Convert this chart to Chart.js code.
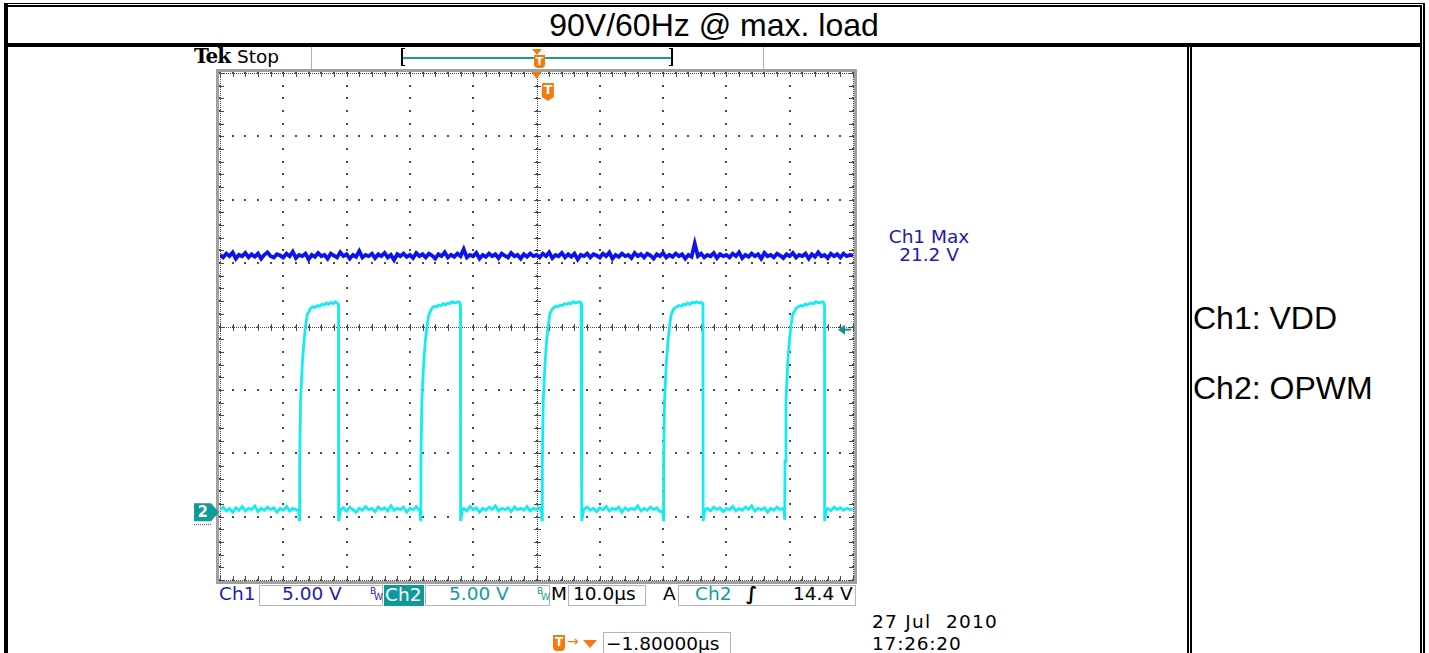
<!DOCTYPE html>
<html>
<head>
<meta charset="utf-8">
<title>90V/60Hz @ max. load</title>
<script src="https://cdn.jsdelivr.net/npm/chart.js@4.4.1/dist/chart.umd.min.js"></script>
<style>
  html, body { margin: 0; padding: 0; background: #fff; }
  body { position: relative; width: 1429px; height: 653px; overflow: hidden; }
  .rule { position: absolute; background: #000; }
  .t { position: absolute; white-space: pre; line-height: 1; font-family: "DejaVu Sans", sans-serif; font-size: 18.5px; color: #000; }
  .cell { position: absolute; white-space: nowrap; line-height: 1; font-family: "Liberation Sans", Arial, sans-serif; font-size: 32px; color: #000; }
  .box { position: absolute; box-sizing: border-box; border: 1px solid #b4b4b4; background: #fff; }
  .sep { position: absolute; width: 1px; background: #b0b0b0; }
  .ch1 { color: #1d1da8; }
  .ch2 { color: #0f9c9c; }
  .bw { position: absolute; line-height: 1; font-family: "DejaVu Sans", sans-serif; font-size: 9px; }
  .orange { background: #f47a10; }
  #plot { position: absolute; left: 180px; top: 67px; }
</style>
</head>
<body>

<!-- table rules -->
<div class="rule" style="left:4px;top:3px;width:1421px;height:1px"></div>
<div class="rule" style="left:4px;top:5px;width:1418px;height:2px"></div>
<div class="rule" style="left:4px;top:3px;width:4px;height:650px"></div>
<div class="rule" style="left:4px;top:43px;width:1418px;height:4px"></div>
<div class="rule" style="left:1420px;top:5px;width:2px;height:648px"></div>
<div class="rule" style="left:1423px;top:3px;width:2px;height:650px"></div>
<div class="rule" style="left:1187px;top:47px;width:2px;height:606px"></div>
<div class="rule" style="left:1190px;top:47px;width:2px;height:606px"></div>

<div class="cell" style="left:8px;width:1412px;top:9px;text-align:center">90V/60Hz @ max. load</div>
<div class="cell" style="left:1193px;top:302px">Ch1: VDD</div>
<div class="cell" style="left:1193px;top:372px">Ch2: OPWM</div>

<!-- scope header -->
<div class="t" style="left:194px;top:46px;font-family:'DejaVu Serif',serif;font-weight:bold;font-size:20px;letter-spacing:-1px">Tek</div>
<div class="t" style="left:237px;top:48px">Stop</div>
<div class="sep" style="left:311px;top:47px;height:22px"></div>
<div class="sep" style="left:763px;top:47px;height:22px"></div>
<div class="rule" style="left:401px;top:48px;width:2px;height:18px"></div>
<div class="rule" style="left:401px;top:48px;width:4px;height:1px"></div>
<div class="rule" style="left:401px;top:65px;width:4px;height:1px"></div>
<div class="rule" style="left:671px;top:48px;width:2px;height:18px"></div>
<div class="rule" style="left:669px;top:48px;width:4px;height:1px"></div>
<div class="rule" style="left:669px;top:65px;width:4px;height:1px"></div>
<div class="rule" style="left:403px;top:57px;width:268px;height:2px;background:#1a9a9a"></div>
<div style="position:absolute;left:532px;top:49px;width:0;height:0;border-left:5px solid transparent;border-right:5px solid transparent;border-top:6px solid #f47a10"></div>
<div class="orange" style="position:absolute;left:534px;top:55px;width:11px;height:13px;border-radius:0 0 4px 4px;color:#fff;font:bold 11px 'DejaVu Sans';text-align:center;line-height:13px">T</div>

<!-- channel readout -->
<div class="t" style="left:880px;top:228px;width:98px;text-align:center;line-height:18px" id="maxLabel"></div>

<!-- status bar -->
<div class="t ch1" style="left:219px;top:585px">Ch1</div>
<div class="box" style="left:259px;top:585px;width:124px;height:21px"></div>
<div class="t ch1" style="left:282px;top:585px">5.00 V</div>
<div class="bw ch1" style="left:370px;top:587px">B</div>
<div class="bw ch1" style="left:374px;top:593px">W</div>
<div style="position:absolute;left:384px;top:585px;width:40px;height:21px;background:#0f9a9a"></div>
<div class="t" style="left:385px;top:586px;color:#fff">Ch2</div>
<div class="box" style="left:425px;top:585px;width:125px;height:21px"></div>
<div class="t ch2" style="left:449px;top:585px">5.00 V</div>
<div class="bw ch2" style="left:537px;top:587px">B</div>
<div class="bw ch2" style="left:541px;top:593px">W</div>
<div class="t" style="left:551px;top:585px">M</div>
<div class="box" style="left:568px;top:585px;width:78px;height:21px"></div>
<div class="t" style="left:573px;top:585px">10.0µs</div>
<div class="t" style="left:663px;top:585px">A</div>
<div class="box" style="left:678px;top:585px;width:178px;height:21px"></div>
<div class="t ch2" style="left:695px;top:585px">Ch2</div>
<div class="t" style="left:746px;top:585px;font-weight:bold">∫</div>
<div class="t" style="left:793px;top:585px">14.4 V</div>

<div class="orange" style="position:absolute;left:553px;top:635px;width:12px;height:16px;border-radius:0 0 4px 4px;color:#fff;font:bold 12px 'DejaVu Sans';text-align:center;line-height:15px">T</div>
<div class="t" style="left:567px;top:634px;color:#f47a10;font-size:14px">→</div>
<div style="position:absolute;left:583px;top:640px;width:0;height:0;border-left:7px solid transparent;border-right:7px solid transparent;border-top:8px solid #f47a10"></div>
<div class="box" style="left:603px;top:632px;width:128px;height:22px"></div>
<div class="t" style="left:606px;top:635px">−1.80000µs</div>
<div class="t" style="left:872px;top:613px;letter-spacing:1.3px">27 Jul  2010</div>
<div class="t" style="left:872px;top:635px;letter-spacing:0.8px">17:26:20</div>

<canvas id="plot" width="690" height="520"></canvas>

<script>
// Ch1 (VDD) record, one sample every 0.5 µs starting at -50 µs
const ch1Start = -50;
const ch1Step = 0.5;
const ch1Volts = [
  20.3, 20.1, 20.4, 20.2, 20.5, 20.0, 20.3, 20.2, 20.45, 20.1, 20.35, 20.15, 20.4, 20.0, 20.3, 20.5, 20.2, 20.1, 20.35, 20.25,
  20.1, 20.4, 20.2, 20.55, 20.05, 20.3, 20.2, 20.4, 19.95, 20.3, 20.15, 20.45, 20.2, 20.3, 20.0, 20.4, 20.25, 20.1, 20.5, 20.2,
  20.35, 20.0, 20.3, 20.15, 20.6, 20.1, 20.3, 20.2, 20.4, 20.05, 20.35, 20.2, 20.45, 20.1, 20.3, 19.9, 20.35, 20.2, 20.4, 20.15,
  20.3, 20.05, 20.45, 20.2, 20.35, 20.1, 20.4, 20.25, 20.0, 20.35, 20.2, 20.5, 20.1, 20.3, 20.15, 20.4, 20.2, 20.75, 20.1, 20.3,
  20.2, 20.45, 20.0, 20.3, 20.15, 20.4, 20.2, 20.35, 20.05, 20.4, 20.25, 20.1, 20.45, 20.2, 20.3, 20.0, 20.35, 20.15, 20.4, 20.2,
  20.3, 20.1, 20.4, 20.2, 20.5, 20.05, 20.3, 20.2, 20.45, 20.1, 20.35, 20.15, 20.4, 19.95, 20.3, 20.2, 20.4, 20.1, 20.35, 20.25,
  20.1, 20.4, 20.2, 20.5, 20.0, 20.3, 20.15, 20.4, 20.2, 20.3, 20.05, 20.45, 20.2, 20.35, 20.1, 20.4, 20.25, 20.0, 20.35, 20.2,
  20.45, 20.1, 20.3, 20.15, 20.4, 20.2, 20.35, 20.0, 20.3, 20.15, 21.2, 20.2, 20.4, 20.1, 20.3, 20.2, 20.45, 20.05, 20.35, 20.2,
  20.3, 20.1, 20.4, 20.2, 20.5, 20.05, 20.3, 20.15, 20.4, 20.2, 20.35, 20.0, 20.45, 20.2, 20.3, 20.1, 20.4, 20.25, 20.05, 20.35,
  20.2, 20.45, 20.1, 20.3, 20.2, 20.4, 20.0, 20.35, 20.15, 20.5, 20.2, 20.3, 20.05, 20.4, 20.2, 20.35, 20.1, 20.4, 20.2, 20.3,
  20.25
];

// Ch2 (OPWM) gate drive, time in µs / volts
const ch2Time = [
  -50, -49.5, -49, -48.5, -48, -47.5, -47, -46.5, -46, -45.5, -45, -44.5, -44, -43.5, -43, -42.5, -42, -41.5, -41, -40.5, -40, -39.5, -39, -38.5, -38, -37.57,
  -37.47, -37.42, -37.27, -37.0, -36.73, -36.48, -36.21, -35.87, -35.67, -35.3, -34.95, -34.6, -34.25, -33.9, -33.55, -33.2, -32.85, -32.5, -32.15, -31.8, -31.5, -31.38, -31.28, -31.26, -30.98,
  -30.5, -30, -29.5, -29, -28.5, -28, -27.5, -27, -26.5, -26, -25.5, -25, -24.5, -24, -23.5, -23, -22.5, -22, -21.5, -21, -20.5, -20, -19.5, -19, -18.5, -18.41,
  -18.31, -18.26, -18.11, -17.84, -17.57, -17.32, -17.05, -16.71, -16.51, -16.15, -15.8, -15.45, -15.1, -14.75, -14.4, -14.05, -13.7, -13.35, -13.0, -12.65, -12.3, -12.11, -12.01, -11.99, -11.71,
  -11.5, -11, -10.5, -10, -9.5, -9, -8.5, -8, -7.5, -7, -6.5, -6, -5.5, -5, -4.5, -4, -3.5, -3, -2.5, -2, -1.5, -1, -0.5, 0, 0.5, 0.77,
  0.87, 0.92, 1.07, 1.34, 1.61, 1.86, 2.13, 2.47, 2.67, 3.0, 3.35, 3.7, 4.05, 4.4, 4.75, 5.1, 5.45, 5.8, 6.15, 6.5, 6.85, 7.04, 7.14, 7.16, 7.44,
  8, 8.5, 9, 9.5, 10, 10.5, 11, 11.5, 12, 12.5, 13, 13.5, 14, 14.5, 15, 15.5, 16, 16.5, 17, 17.5, 18, 18.5, 19, 19.5, 19.93,
  20.03, 20.08, 20.23, 20.5, 20.77, 21.02, 21.29, 21.63, 21.83, 22.15, 22.5, 22.85, 23.2, 23.55, 23.9, 24.25, 24.6, 24.95, 25.3, 25.65, 26.0, 26.2, 26.3, 26.32, 26.6,
  27, 27.5, 28, 28.5, 29, 29.5, 30, 30.5, 31, 31.5, 32, 32.5, 33, 33.5, 34, 34.5, 35, 35.5, 36, 36.5, 37, 37.5, 38, 38.5, 39, 39.11,
  39.21, 39.26, 39.41, 39.68, 39.95, 40.2, 40.47, 40.81, 41.01, 41.35, 41.7, 42.05, 42.4, 42.75, 43.1, 43.45, 43.8, 44.15, 44.5, 44.85, 45.2, 45.4, 45.5, 45.52, 45.8,
  46, 46.5, 47, 47.5, 48, 48.5, 49, 49.5, 50
];
const ch2Volts = [
  0.2, 0.4, 0.1, 0.3, 0.0, 0.35, 0.15, 0.45, 0.1, 0.3, 0.2, 0.5, 0.05, 0.3, 0.15, 0.4, 0.2, 0.35, 0.0, 0.3, 0.15, 0.45, 0.1, 0.3, 0.2, 0.1,
  -0.6, 4.0, 8.8, 11.7, 13.5, 14.7, 15.6, 15.9, 16.1, 16.2, 16.15, 16.3, 16.25, 16.4, 16.35, 16.5, 16.4, 16.55, 16.45, 16.6, 16.5, 16.55, 16.3, -0.7, 0.2,
  0.35, 0.1, 0.4, 0.2, 0.0, 0.3, 0.15, 0.45, 0.2, 0.3, 0.05, 0.4, 0.2, 0.35, 0.1, 0.5, 0.15, 0.3, 0.2, 0.4, 0.0, 0.3, 0.2, 0.45, 0.15, 0.1,
  -0.6, 4.0, 8.8, 11.6, 13.5, 14.6, 15.5, 15.9, 16.1, 16.25, 16.2, 16.35, 16.3, 16.45, 16.35, 16.5, 16.45, 16.6, 16.5, 16.55, 16.6, 16.5, 16.3, -0.7, 0.2,
  0.3, 0.1, 0.45, 0.2, 0.35, 0.0, 0.3, 0.15, 0.4, 0.2, 0.5, 0.1, 0.3, 0.2, 0.35, 0.05, 0.4, 0.2, 0.3, 0.15, 0.45, 0.1, 0.3, 0.2, 0.35, 0.1,
  -0.6, 4.0, 8.8, 11.7, 13.6, 14.7, 15.7, 16.0, 16.1, 16.25, 16.2, 16.35, 16.3, 16.45, 16.4, 16.5, 16.45, 16.6, 16.5, 16.55, 16.6, 16.5, 16.3, -0.7, 0.2,
  0.4, 0.15, 0.3, 0.05, 0.35, 0.2, 0.45, 0.1, 0.3, 0.2, 0.4, 0.0, 0.35, 0.15, 0.3, 0.2, 0.5, 0.1, 0.3, 0.15, 0.4, 0.2, 0.35, 0.05, 0.1,
  -0.6, 4.0, 8.8, 11.7, 13.5, 14.7, 15.6, 16.0, 16.1, 16.2, 16.3, 16.25, 16.4, 16.35, 16.5, 16.4, 16.55, 16.5, 16.6, 16.5, 16.55, 16.5, 16.3, -0.7, 0.2,
  0.3, 0.1, 0.4, 0.2, 0.35, 0.05, 0.3, 0.2, 0.45, 0.1, 0.3, 0.15, 0.4, 0.2, 0.5, 0.1, 0.3, 0.2, 0.35, 0.0, 0.3, 0.15, 0.4, 0.2, 0.3, 0.1,
  -0.6, 4.0, 8.8, 11.7, 13.5, 14.7, 15.6, 15.9, 16.1, 16.2, 16.3, 16.25, 16.4, 16.35, 16.45, 16.5, 16.45, 16.6, 16.5, 16.55, 16.6, 16.5, 16.3, -0.7, 0.2,
  0.3, 0.1, 0.4, 0.2, 0.35, 0.15, 0.3, 0.2, 0.25
];

// horizontal: 10 µs/div, trigger at the centre of the screen
const timeTicks = [-50, -40, -30, -20, -10, 0, 10, 20, 30, 40, 50];
const voltsPerDiv = 5;
const groundDiv = -2.93;     // both channels' 0 V, in divisions below centre
const trigLevel = 14.4;      // Ch2 rising edge
const trigPoint = 1.8;       // µs

const yMin = (-4 - groundDiv) * voltsPerDiv;
const yMax = (4 - groundDiv) * voltsPerDiv;
const voltTicks = [0, 1, 2, 3, 4, 5, 6, 7, 8].map(k => yMin + k * voltsPerDiv);

const ch1Max = Math.max(...ch1Volts);
document.getElementById('maxLabel').innerHTML =
  '<span class="ch1">Ch1 Max<br>' + ch1Max.toFixed(1) + ' V</span>';

const dotColor = '#4a4a4a';

// screen graticule: dotted divisions, dense centre cross, edge ticks
const graticule = {
  id: 'graticule',
  beforeDatasetsDraw(chart) {
    const { ctx, chartArea: a, scales: { x, y } } = chart;
    const dx = (x.getPixelForValue(timeTicks[1]) - x.getPixelForValue(timeTicks[0])) / 5;
    const dy = (y.getPixelForValue(voltTicks[0]) - y.getPixelForValue(voltTicks[1])) / 5;
    const dot = (px, py) => ctx.fillRect(Math.round(px) - 1, Math.round(py) - 1, 2, 2);
    ctx.save();

    ctx.strokeStyle = '#a0a0a0';
    ctx.lineWidth = 3;
    ctx.strokeRect(a.left - 2.5, a.top - 2.5, a.right - a.left + 5, a.bottom - a.top + 5);

    ctx.fillStyle = dotColor;
    timeTicks.forEach(t => {
      const px = x.getPixelForValue(t);
      for (let j = 0; j <= 40; j++) dot(px, a.top + j * dy);
    });
    voltTicks.forEach(v => {
      const py = y.getPixelForValue(v);
      for (let j = 0; j <= 50; j++) dot(a.left + j * dx, py);
    });

    // centre cross
    const cx = x.getPixelForValue(0);
    const cy = y.getPixelForValue(voltTicks[4]);
    for (let px = a.left; px <= a.right; px += 2) ctx.fillRect(Math.round(px), Math.round(cy), 1, 1);
    for (let py = a.top; py <= a.bottom; py += 2) ctx.fillRect(Math.round(cx), Math.round(py), 1, 1);
    for (let j = 0; j <= 50; j++) ctx.fillRect(Math.round(a.left + j * dx), Math.round(cy) - 3, 1, 7);
    for (let j = 0; j <= 40; j++) ctx.fillRect(Math.round(cx) - 3, Math.round(a.top + j * dy), 7, 1);

    // edge ticks
    for (let j = 0; j <= 50; j++) {
      const px = Math.round(a.left + j * dx);
      ctx.fillRect(px, Math.round(a.top), 1, 4);
      ctx.fillRect(px, Math.round(a.bottom) - 4, 1, 4);
    }
    for (let j = 0; j <= 40; j++) {
      const py = Math.round(a.top + j * dy);
      ctx.fillRect(Math.round(a.left), py, 4, 1);
      ctx.fillRect(Math.round(a.right) - 4, py, 4, 1);
    }
    for (let px = a.left; px <= a.right; px += 2) {
      ctx.fillRect(Math.round(px), Math.round(a.top), 1, 1);
      ctx.fillRect(Math.round(px), Math.round(a.bottom), 1, 1);
    }
    for (let py = a.top; py <= a.bottom; py += 2) {
      ctx.fillRect(Math.round(a.left), Math.round(py), 1, 1);
      ctx.fillRect(Math.round(a.right), Math.round(py), 1, 1);
    }
    ctx.restore();
  }
};

// ground, trigger level and trigger position markers
const markers = {
  id: 'markers',
  afterDatasetsDraw(chart) {
    const { ctx, chartArea: a, scales: { x, y } } = chart;
    ctx.save();

    // Ch2 ground marker
    const gy = y.getPixelForValue(0);
    const gx = a.left;
    ctx.fillStyle = '#109a9a';
    ctx.beginPath();
    ctx.moveTo(gx - 26, gy - 9);
    ctx.lineTo(gx - 9, gy - 9);
    ctx.lineTo(gx - 1, gy);
    ctx.lineTo(gx - 9, gy + 9);
    ctx.lineTo(gx - 26, gy + 9);
    ctx.closePath();
    ctx.fill();
    ctx.fillStyle = '#fff';
    ctx.font = 'bold 15px "DejaVu Sans"';
    ctx.textAlign = 'center';
    ctx.textBaseline = 'middle';
    ctx.fillText('2', gx - 17, gy + 1);
    ctx.fillStyle = '#3040c0';
    for (let px = gx - 26; px <= gx - 9; px += 2) ctx.fillRect(px, gy + 12, 1, 1);

    // trigger level arrow on the right edge
    const ty = y.getPixelForValue(trigLevel);
    ctx.fillStyle = '#119494';
    ctx.beginPath();
    ctx.moveTo(a.right - 15, ty);
    ctx.lineTo(a.right - 8, ty - 5);
    ctx.lineTo(a.right - 8, ty + 5);
    ctx.closePath();
    ctx.fill();
    ctx.fillRect(a.right - 9, ty - 1, 7, 2);

    // trigger position and trigger point
    const px0 = x.getPixelForValue(0);
    ctx.fillStyle = '#f47a10';
    ctx.beginPath();
    ctx.moveTo(px0 - 5, a.top - 1);
    ctx.lineTo(px0 + 5, a.top - 1);
    ctx.lineTo(px0, a.top + 6);
    ctx.closePath();
    ctx.fill();
    const tx = x.getPixelForValue(trigPoint);
    ctx.beginPath();
    ctx.moveTo(tx - 6, a.top + 10);
    ctx.lineTo(tx + 6, a.top + 10);
    ctx.lineTo(tx + 6, a.top + 24);
    ctx.lineTo(tx, a.top + 28);
    ctx.lineTo(tx - 6, a.top + 24);
    ctx.closePath();
    ctx.fill();
    ctx.fillStyle = '#fff';
    ctx.font = 'bold 13px "DejaVu Sans"';
    ctx.fillText('T', tx, a.top + 18);
    ctx.restore();
  }
};

new Chart(document.getElementById('plot'), {
  type: 'scatter',
  data: {
    datasets: [
      {
        label: 'Ch1',
        data: ch1Volts.map((v, i) => ({ x: ch1Start + i * ch1Step, y: v })),
        showLine: true,
        borderColor: '#0b12ee',
        borderWidth: 3.8,
        pointRadius: 0,
        tension: 0
      },
      {
        label: 'Ch2',
        data: ch2Time.map((t, i) => ({ x: t, y: ch2Volts[i] })),
        showLine: true,
        borderColor: '#14ecf2',
        borderWidth: 2.8,
        pointRadius: 0,
        tension: 0
      }
    ]
  },
  options: {
    responsive: false,
    animation: false,
    devicePixelRatio: 1,
    layout: { padding: { left: 40, right: 17, top: 6, bottom: 7 } },
    plugins: { legend: { display: false }, tooltip: { enabled: false } },
    scales: {
      x: { type: 'linear', min: timeTicks[0], max: timeTicks[timeTicks.length - 1], display: false },
      y: { type: 'linear', min: yMin, max: yMax, display: false }
    }
  },
  plugins: [graticule, markers]
});
</script>
</body>
</html>
